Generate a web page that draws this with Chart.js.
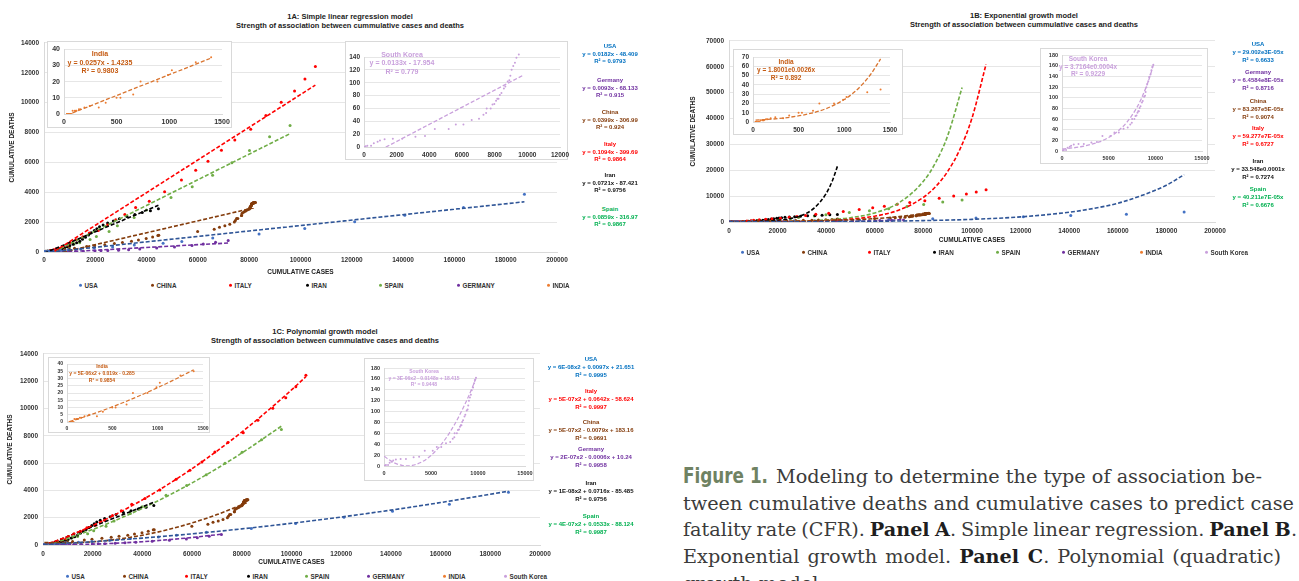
<!DOCTYPE html>
<html>
<head>
<meta charset="utf-8">
<script src="https://cdn.jsdelivr.net/npm/chart.js@4.4.1/dist/chart.umd.min.js"></script>
<style>
  body { margin: 0; width: 1299px; height: 581px; overflow: hidden; background: #fff; position: relative;
         font-family: "Liberation Sans", Arial, sans-serif; }
  .box { position: absolute; background: #fff; border: 1px solid #d9d9d9; box-sizing: border-box; }
  .t { position: absolute; white-space: nowrap; font-weight: bold; transform: translate(-50%, -50%); line-height: 1; }
  .lg { position: absolute; white-space: nowrap; font-weight: bold; font-size: 6.3px; color: #333; transform: translateY(-50%); line-height: 1; }
  .lg i { display: inline-block; width: 3px; height: 3px; border-radius: 50%; margin-right: 3px; vertical-align: middle; position: relative; top: -1px; }
  .cap { position: absolute; white-space: nowrap; font-family: "DejaVu Serif", "Liberation Serif", serif; color: #3b3b3b; line-height: 26px; font-size: 20px; }
  .cap b { color: #1e1e1e; }
  .fig { position: absolute; white-space: nowrap; font-family: "Liberation Sans Narrow", "DejaVu Sans Condensed", "Roboto Condensed", sans-serif;
         font-stretch: condensed; font-weight: bold; color: #6f8262; font-size: 22px; line-height: 26px; transform-origin: 0 50%; }
</style>
</head>
<body>
<script>
// ---- data ----
const countries = ['USA', 'CHINA', 'ITALY', 'IRAN', 'SPAIN', 'GERMANY', 'INDIA', 'South Korea'];

const usaCases = [100, 217, 402, 647, 1301, 1697, 2247, 2943, 3680, 4663, 6411, 9415, 14250, 19624, 26747, 35206, 46442, 53740, 65778, 83836, 101657, 121117, 140640, 163539, 187302];
const usaDeaths = [6, 12, 19, 25, 38, 41, 49, 57, 68, 91, 117, 150, 205, 260, 340, 471, 590, 706, 942, 1209, 1581, 2026, 2467, 2978, 3873];

const chinaCases = [548, 643, 920, 1406, 2075, 2877, 5509, 6087, 8141, 9802, 11891, 16630, 19716, 23707, 27440, 30587, 34110, 36814, 39829, 42354,
  44386, 44759, 59895, 66358, 68413, 70513, 72434, 74211, 74619, 75077, 75550, 77001, 77022, 77241, 77754, 78166, 78600, 78928, 79356, 79932,
  80136, 80261, 80386, 80537, 80690, 80770, 80823, 80860, 80887, 80921, 80932, 80945, 80977, 81003, 81033, 81058, 81102, 81156, 81250, 81305,
  81435, 81498, 81591, 81661, 81782, 81897, 82034, 82160, 82280, 82443];
const chinaDeaths = [17, 18, 26, 42, 56, 82, 131, 133, 171, 213, 259, 361, 425, 490, 562, 632, 717, 804, 904, 1011,
  1111, 1116, 1368, 1520, 1662, 1765, 1863, 2002, 2114, 2236, 2236, 2441, 2443, 2592, 2663, 2715, 2744, 2788, 2835, 2870,
  2912, 2981, 3012, 3045, 3073, 3100, 3123, 3139, 3161, 3172, 3180, 3193, 3203, 3217, 3230, 3241, 3249, 3253, 3261, 3259,
  3274, 3274, 3281, 3285, 3291, 3296, 3301, 3306, 3309, 3316];

const italyCases = [155, 229, 322, 453, 655, 888, 1128, 1694, 2036, 2502, 3089, 3858, 4636, 5883, 7375, 9172, 10149, 12462, 15113, 17660,
  21157, 24747, 27980, 31506, 35713, 41035, 47021, 53578, 59138, 63927, 69176, 74386, 80589, 86498, 92472, 97689, 101739, 105792];
const italyDeaths = [3, 7, 10, 12, 17, 21, 29, 34, 52, 79, 107, 148, 197, 233, 366, 463, 631, 827, 1016, 1266,
  1441, 1809, 2158, 2503, 2978, 3405, 4032, 4825, 5476, 6077, 6820, 7503, 8215, 9134, 10023, 10779, 11591, 12428];

const iranCases = [139, 245, 388, 593, 978, 1501, 2336, 2922, 3513, 4747, 5823, 6566, 7161, 8042, 9000, 10075, 11364, 12729, 13938, 14991,
  16169, 17361, 18407, 19644, 20610, 21638, 23049, 24811, 27017, 29406, 32332, 35408, 38309, 41495, 44605];
const iranDeaths = [19, 26, 34, 43, 54, 66, 77, 92, 107, 124, 145, 194, 237, 291, 354, 429, 514, 611, 724, 853,
  988, 1135, 1284, 1433, 1556, 1685, 1812, 1934, 2077, 2234, 2378, 2517, 2640, 2757, 2898];

const spainCases = [13, 32, 45, 84, 120, 165, 222, 259, 400, 500, 673, 1073, 1695, 2277, 2950, 5232, 6391, 7798, 9942, 11748,
  13910, 17963, 20410, 25374, 28603, 35136, 39885, 49515, 57786, 65719, 73235, 80110, 87956, 95923];
const spainDeaths = [0, 0, 0, 0, 0, 1, 2, 3, 5, 10, 17, 28, 35, 54, 84, 133, 195, 289, 342, 533,
  623, 830, 1043, 1375, 1756, 2311, 2808, 3647, 4365, 5138, 5982, 6803, 7716, 8464];

const germanyCases = [130, 159, 196, 262, 482, 670, 799, 1040, 1176, 1457, 1908, 2078, 3675, 4585, 5795, 7272, 9257, 12327, 15320, 19848,
  22213, 24873, 29056, 32986, 37323, 43938, 50871, 57695, 62095, 66885, 71808];
const germanyDeaths = [0, 0, 0, 0, 0, 0, 0, 0, 2, 2, 3, 3, 7, 9, 11, 17, 24, 28, 44, 67,
  84, 94, 123, 157, 206, 267, 342, 433, 533, 645, 775];

const indiaCases = [28, 30, 31, 34, 39, 43, 56, 62, 73, 82, 102, 113, 119, 142, 156, 194, 244, 330, 396, 499, 536, 657, 727, 887, 987, 1024, 1251, 1397];
const indiaDeaths = [0, 0, 0, 0, 0, 0, 0, 0, 0, 2, 2, 2, 2, 3, 3, 4, 5, 4, 7, 10, 10, 12, 20, 20, 24, 27, 32, 35];

const skCases = [31, 51, 104, 204, 433, 602, 833, 977, 1261, 1766, 2337, 3150, 3736, 4335, 5186, 5621, 6088, 6593, 7041, 7314,
  7478, 7513, 7755, 7869, 7979, 8086, 8162, 8236, 8320, 8413, 8565, 8652, 8799, 8897, 8961, 9037, 9137, 9241, 9332, 9478,
  9583, 9661, 9786];
const skDeaths = [0, 0, 1, 2, 2, 6, 8, 10, 12, 13, 13, 16, 17, 28, 28, 35, 35, 42, 44, 50,
  53, 60, 60, 66, 67, 72, 75, 75, 81, 84, 91, 94, 102, 104, 111, 120, 126, 131, 139, 144,
  152, 158, 162];

// trend lines, 1A linear (end points)
const usaLinX = [100, 187302], usaLinY = [-46.6, 3360.5];
const chinaLinX = [548, 82443], chinaLinY = [-285.1, 2982.5];
const italyLinX = [155, 105792], italyLinY = [-382.7, 11174];
const iranLinX = [139, 44605], iranLinY = [-77.4, 3128.6];
const spainLinX = [13, 95923], spainLinY = [-315.9, 7922.8];
const germanyLinX = [130, 71808], germanyLinY = [-66.9, 599.7];
const indiaLinX = [28, 1397], indiaLinY = [-0.7, 34.5];
const skLinX = [31, 9786], skLinY = [-17.5, 112.2];

// 1B exponential curves (sampled)
const usaExpX = [100, 20000, 40000, 60000, 80000, 100000, 120000, 140000, 150000, 160000, 170000, 180000, 187302];
const usaExpY = [40, 77, 147, 281, 538, 1031, 1976, 3785, 5240, 7240, 10300, 14200, 18300];
const chinaExpX = [548, 10000, 20000, 30000, 40000, 50000, 60000, 70000, 76000, 82443];
const chinaExpY = [85, 131, 208, 330, 523, 828, 1310, 2074, 2735, 3680];
const italyExpX = [155, 10000, 20000, 30000, 40000, 50000, 60000, 70000, 80000, 85000, 90000, 95000, 100000, 105792];
const italyExpY = [30, 62, 127, 260, 535, 1098, 2256, 4633, 9520, 13640, 19560, 28030, 40180, 61000];
const iranExpX = [139, 10000, 20000, 25000, 30000, 35000, 40000, 42500, 44605];
const iranExpY = [34, 143, 608, 1254, 2587, 5340, 11020, 15840, 21500];
const spainExpX = [13, 10000, 20000, 30000, 40000, 50000, 60000, 70000, 80000, 85000, 90000, 95923];
const spainExpY = [39, 83, 175, 370, 785, 1661, 3515, 7443, 15750, 22930, 33360, 52000];
const germanyExpX = [130, 20000, 30000, 40000, 50000, 60000, 66000, 71808];
const germanyExpY = [6.5, 26.2, 52.9, 106, 214, 431, 656, 985];
const indiaExpX = [28, 200, 400, 600, 800, 1000, 1100, 1200, 1300, 1397];
const indiaExpY = [1.94, 3.03, 5.09, 8.57, 14.4, 24.2, 31.4, 40.8, 52.9, 68];
const skExpX = [31, 2000, 4000, 5000, 6000, 7000, 8000, 8500, 9000, 9400, 9786];
const skExpY = [3.74, 8.0, 17.3, 25.5, 37.5, 55.2, 81.1, 98.4, 119.4, 139.3, 161.7];

// 1C polynomial curves (sampled)
const usaPolX = [100, 20000, 40000, 60000, 80000, 100000, 120000, 140000, 160000, 187302];
const usaPolY = [23, 240, 506, 820, 1182, 1592, 2050, 2556, 3110, 3944];
const chinaPolX = [548, 10000, 20000, 30000, 40000, 50000, 60000, 70000, 80000, 82443];
const chinaPolY = [179, 157, 237, 423, 715, 1113, 1617, 2227, 2943, 3134];
const italyPolX = [155, 10000, 20000, 30000, 40000, 50000, 60000, 70000, 80000, 90000, 100000, 105792];
const italyPolY = [-48.6, 633, 1425, 2317, 3309, 4401, 5593, 6885, 8277, 9769, 11361, 12329];
const iranPolX = [139, 10000, 20000, 30000, 40000, 44605];
const iranPolY = [-75.5, 632, 1351, 2072, 2795, 3129];
const spainPolX = [13, 5000, 10000, 20000, 30000, 40000, 50000, 60000, 70000, 80000, 95923];
const spainPolY = [-87.4, 188, 485, 1138, 1871, 2684, 3577, 4550, 5603, 6736, 8705];
const germanyPolX = [130, 10000, 20000, 30000, 40000, 50000, 60000, 71808];
const germanyPolY = [10.2, 20, 62, 136, 242, 380, 550, 792];
const indiaPolX = [28, 200, 400, 600, 800, 1000, 1200, 1397];
const indiaPolY = [0.25, 3.7, 8.1, 12.9, 18.1, 23.7, 29.7, 36.0];
const skPolX = [31, 500, 1000, 1500, 2000, 2500, 3000, 4000, 5000, 6000, 7000, 8000, 9000, 9786];
const skPolY = [17.96, 11.8, 6.6, 3.0, 0.8, 0.15, 1.0, 7.2, 19.4, 37.6, 61.8, 92, 128.2, 160.9];

// equation labels
const eqA = [['USA', 'y = 0.0182x - 48.409', 'R² = 0.9793'], ['Germany', 'y = 0.0093x - 68.133', 'R² = 0.915'],
  ['China', 'y = 0.0399x - 306.99', 'R² = 0.924'], ['Italy', 'y = 0.1094x - 399.69', 'R² = 0.9864'],
  ['Iran', 'y = 0.0721x - 87.421', 'R² = 0.9756'], ['Spain', 'y = 0.0859x - 316.97', 'R² = 0.9867']];
const eqB = [['USA', 'y = 29.002e3E-05x', 'R² = 0.6633'], ['Germany', 'y = 6.4584e8E-05x', 'R² = 0.8716'],
  ['China', 'y = 83.267e5E-05x', 'R² = 0.9074'], ['Italy', 'y = 59.277e7E-05x', 'R² = 0.6727'],
  ['Iran', 'y = 33.548e0.0001x', 'R² = 0.7274'], ['Spain', 'y = 40.211e7E-05x', 'R² = 0.6676']];
const eqC = [['USA', 'y = 6E-08x2 + 0.0097x + 21.651', 'R² = 0.9995'], ['Italy', 'y = 5E-07x2 + 0.0642x - 58.624', 'R² = 0.9997'],
  ['China', 'y = 5E-07x2 - 0.0079x + 183.16', 'R² = 0.9691'], ['Germany', 'y = 2E-07x2 - 0.0006x + 10.24', 'R² = 0.9958'],
  ['Iran', 'y = 1E-08x2 + 0.0716x - 85.485', 'R² = 0.9756'], ['Spain', 'y = 4E-07x2 + 0.0533x - 88.124', 'R² = 0.9987']];
const indiaEq = [['India', 'y = 0.0257x - 1.4235', 'R² = 0.9803'], ['India', 'y = 1.8001e0.0026x', 'R² = 0.892'], ['India', 'y = 5E-06x2 + 0.019x - 0.285', 'R² = 0.9854']];
const skEq = [['South Korea', 'y = 0.0133x - 17.954', 'R² = 0.779'], ['South Korea', 'y = 3.7164e0.0004x', 'R² = 0.9229'], ['South Korea', 'y = 3E-06x2 - 0.0148x + 18.415', 'R² = 0.9448']];

// ---- styling ----
const FONT = '"Liberation Sans", Arial, sans-serif';
const col = { usa: '#4472c4', usaL: '#2f5597', china: '#843c0c', italy: '#ff0000', iran: '#000000', spain: '#70ad47',
  germany: '#7030a0', india: '#ed7d31', indiaL: '#d9742f', sk: '#c9a0dc' };
const eqCol = { USA: '#0070c0', Germany: '#7030a0', China: '#843c0c', Italy: '#ff0000', Iran: '#111111', Spain: '#00b050' };
const legendCol = [col.usa, col.china, col.italy, col.iran, col.spain, col.germany, col.india, col.sk];

function pts(xs, ys) {
  return xs.map((x, i) => ({ x: x, y: ys[i] }));
}
function dots(xs, ys, color, r) {
  return { data: pts(xs, ys), showLine: false, pointRadius: r, pointBackgroundColor: color, pointBorderWidth: 0, borderColor: color };
}
function trend(xs, ys, color, w) {
  return { data: pts(xs, ys), showLine: true, pointRadius: 0, borderColor: color, borderWidth: w, borderDash: [4, 2],
    cubicInterpolationMode: 'monotone' };
}

function makeChart(rect, plot, cfg) {
  const cv = document.createElement('canvas');
  cv.width = rect.w;
  cv.height = rect.h;
  cv.style.cssText = 'position:absolute;left:' + rect.x + 'px;top:' + rect.y + 'px;width:' + rect.w + 'px;height:' + rect.h + 'px';
  document.body.appendChild(cv);
  const tickFont = { family: FONT, size: cfg.fs, weight: 'bold' };
  const titleFont = { family: FONT, size: 6.5, weight: 'bold' };
  return new Chart(cv, {
    type: 'scatter',
    data: { datasets: cfg.datasets },
    options: {
      responsive: false,
      animation: false,
      events: [],
      layout: { padding: { left: 0, bottom: 0, top: plot.t - rect.y, right: rect.x + rect.w - plot.r } },
      plugins: { legend: { display: false }, tooltip: { enabled: false } },
      scales: {
        x: {
          type: 'linear', min: 0, max: cfg.xMax,
          ticks: { stepSize: cfg.xStep, font: tickFont, color: '#333', padding: cfg.xPad, maxRotation: 0, autoSkip: false, callback: v => String(v) },
          grid: { display: false, drawTicks: false },
          border: { display: true, color: '#d9d9d9' },
          title: { display: !!cfg.xTitle, text: cfg.xTitle || '', font: titleFont, color: '#222', padding: { top: 0, bottom: 2 } },
          afterFit: s => { s.height = rect.y + rect.h - plot.b; }
        },
        y: {
          type: 'linear', min: 0, max: cfg.yMax,
          ticks: { stepSize: cfg.yStep, font: tickFont, color: '#333', padding: cfg.yPad, autoSkip: false, callback: v => String(v) },
          grid: { color: '#e0e0e0', lineWidth: 0.8, drawTicks: false },
          border: { display: true, color: '#d9d9d9' },
          title: { display: !!cfg.yTitle, text: cfg.yTitle || '', font: titleFont, color: '#222', padding: { top: cfg.titlePad || 4, bottom: 0 } },
          afterFit: s => { s.width = plot.l - rect.x; }
        }
      }
    }
  });
}

function text(x, y, s, size, color) {
  const d = document.createElement('div');
  d.className = 't';
  d.style.cssText = 'left:' + x + 'px;top:' + y + 'px;font-size:' + size + 'px;color:' + color;
  d.textContent = s;
  document.body.appendChild(d);
}
function block(cx, y0, step, lines, size, color) {
  lines.forEach((s, i) => text(cx, y0 + i * step, s, size, color));
}
function legend(xs, y, n) {
  for (let i = 0; i < n; i++) {
    const d = document.createElement('div');
    d.className = 'lg';
    d.style.left = (xs[i] - 1.5) + 'px';
    d.style.top = y + 'px';
    d.innerHTML = '<i style="background:' + legendCol[i] + '"></i>' + countries[i];
    document.body.appendChild(d);
  }
}
function inset(box, plot, cfg) {
  const b = document.createElement('div');
  b.className = 'box';
  b.style.cssText = 'left:' + box.x + 'px;top:' + box.y + 'px;width:' + box.w + 'px;height:' + box.h + 'px';
  document.body.appendChild(b);
  cfg.xPad = 4; cfg.yPad = 4;
  makeChart({ x: box.x, y: box.y, w: box.w + 20, h: box.h }, plot, cfg);
}
function panelTitle(cx, y, name) {
  text(cx, y, name, 7.5, '#222');
  text(cx, y + 9, 'Strength of association between cummulative cases and deaths', 7.5, '#222');
}

// ---- panel 1A : linear ----
panelTitle(350, 17, '1A: Simple linear regression model');
makeChart({ x: 0, y: 34, w: 600, h: 244 }, { l: 44, t: 42, r: 557, b: 252 }, {
  xMax: 200000, xStep: 20000, yMax: 14000, yStep: 2000, fs: 6.5, xPad: 4, yPad: 5, titlePad: 8,
  xTitle: 'CUMULATIVE CASES', yTitle: 'CUMULATIVE DEATHS',
  datasets: [
    trend(usaLinX, usaLinY, col.usaL, 1.6), trend(chinaLinX, chinaLinY, col.china, 1.6), trend(italyLinX, italyLinY, col.italy, 1.6),
    trend(iranLinX, iranLinY, col.iran, 1.6), trend(spainLinX, spainLinY, col.spain, 1.6), trend(germanyLinX, germanyLinY, col.germany, 1.6),
    dots(usaCases, usaDeaths, col.usa, 1.5), dots(chinaCases, chinaDeaths, col.china, 1.5), dots(italyCases, italyDeaths, col.italy, 1.5),
    dots(iranCases, iranDeaths, col.iran, 1.5), dots(spainCases, spainDeaths, col.spain, 1.5), dots(germanyCases, germanyDeaths, col.germany, 1.5)
  ]
});
inset({ x: 47, y: 41, w: 185, h: 87 }, { l: 64, t: 48, r: 222, b: 114 }, {
  xMax: 1500, xStep: 500, yMax: 40, yStep: 10, fs: 7,
  datasets: [trend(indiaLinX, indiaLinY, col.indiaL, 1.3), dots(indiaCases, indiaDeaths, col.india, 1)]
});
const skDotsA = dots(skCases, skDeaths, col.sk, 1);
skDotsA.clip = { left: 0, top: 6, right: 0, bottom: 0 };
inset({ x: 345, y: 41, w: 223, h: 119 }, { l: 364, t: 57, r: 560, b: 147 }, {
  xMax: 12000, xStep: 2000, yMax: 140, yStep: 20, fs: 6.5,
  datasets: [trend(skLinX, skLinY, col.sk, 1.3), skDotsA]
});
block(100, 53, 8.5, indiaEq[0], 7, '#c55a11');
block(402, 54, 8.3, skEq[0], 7, '#c9a0dc');
[46, 80, 112, 144, 175, 209].forEach((y, i) => block(610, y, 7.5, eqA[i], 6, eqCol[eqA[i][0]]));
legend([80, 152, 230, 307, 380, 458, 548], 286, 7);

// ---- panel 1B : exponential ----
panelTitle(1024, 16, '1B: Exponential growth model');
makeChart({ x: 681, y: 32, w: 580, h: 214 }, { l: 729, t: 40, r: 1215, b: 222 }, {
  xMax: 200000, xStep: 20000, yMax: 70000, yStep: 10000, fs: 6.5, xPad: 5, yPad: 5, titlePad: 8,
  xTitle: 'CUMULATIVE CASES', yTitle: 'CUMULATIVE DEATHS',
  datasets: [
    trend(usaExpX, usaExpY, col.usaL, 1.6), trend(chinaExpX, chinaExpY, col.china, 1.6), trend(italyExpX, italyExpY, col.italy, 1.6),
    trend(iranExpX, iranExpY, col.iran, 1.6), trend(spainExpX, spainExpY, col.spain, 1.6), trend(germanyExpX, germanyExpY, col.germany, 1.6),
    dots(usaCases, usaDeaths, col.usa, 1.5), dots(chinaCases, chinaDeaths, col.china, 1.5), dots(italyCases, italyDeaths, col.italy, 1.5),
    dots(iranCases, iranDeaths, col.iran, 1.5), dots(spainCases, spainDeaths, col.spain, 1.5), dots(germanyCases, germanyDeaths, col.germany, 1.5)
  ]
});
inset({ x: 733, y: 49, w: 170, h: 86 }, { l: 753, t: 57, r: 890, b: 122 }, {
  xMax: 1500, xStep: 500, yMax: 70, yStep: 10, fs: 6.5,
  datasets: [trend(indiaExpX, indiaExpY, col.indiaL, 1.3), dots(indiaCases, indiaDeaths, col.india, 1)]
});
inset({ x: 1040, y: 48, w: 168, h: 116 }, { l: 1062, t: 53, r: 1202, b: 151 }, {
  xMax: 15000, xStep: 5000, yMax: 180, yStep: 20, fs: 5.5,
  datasets: [trend(skExpX, skExpY, col.sk, 1.3), dots(skCases, skDeaths, col.sk, 1)]
});
block(786, 62, 8, indiaEq[1], 6.5, '#c55a11');
block(1088, 59, 7.5, skEq[1], 6.5, '#c9a0dc');
[44, 72, 101, 128, 161, 189].forEach((y, i) => block(1258, y, 7.8, eqB[i], 6, eqCol[eqB[i][0]]));
legend([742, 803, 869, 934, 997, 1063, 1141, 1206], 253, 8);

// ---- panel 1C : polynomial ----
panelTitle(325, 332, '1C: Polynomial growth model');
makeChart({ x: 0, y: 345, w: 580, h: 223 }, { l: 43, t: 353, r: 540, b: 545 }, {
  xMax: 200000, xStep: 20000, yMax: 14000, yStep: 2000, fs: 6.5, xPad: 5, yPad: 5, titlePad: 6,
  xTitle: 'CUMULATIVE CASES', yTitle: 'CUMULATIVE DEATHS',
  datasets: [
    trend(usaPolX, usaPolY, col.usaL, 1.6), trend(chinaPolX, chinaPolY, col.china, 1.6), trend(italyPolX, italyPolY, col.italy, 1.6),
    trend(iranPolX, iranPolY, col.iran, 1.6), trend(spainPolX, spainPolY, col.spain, 1.6), trend(germanyPolX, germanyPolY, col.germany, 1.6),
    dots(usaCases, usaDeaths, col.usa, 1.5), dots(chinaCases, chinaDeaths, col.china, 1.5), dots(italyCases, italyDeaths, col.italy, 1.5),
    dots(iranCases, iranDeaths, col.iran, 1.5), dots(spainCases, spainDeaths, col.spain, 1.5), dots(germanyCases, germanyDeaths, col.germany, 1.5)
  ]
});
inset({ x: 48, y: 357, w: 162, h: 76 }, { l: 67, t: 363, r: 203, b: 422 }, {
  xMax: 1500, xStep: 500, yMax: 40, yStep: 5, fs: 5,
  datasets: [trend(indiaPolX, indiaPolY, col.indiaL, 1.2), dots(indiaCases, indiaDeaths, col.india, 1)]
});
inset({ x: 364, y: 358, w: 170, h: 123 }, { l: 384, t: 368, r: 525, b: 466 }, {
  xMax: 15000, xStep: 5000, yMax: 180, yStep: 20, fs: 5.5,
  datasets: [trend(skPolX, skPolY, col.sk, 1.2), dots(skCases, skDeaths, col.sk, 1)]
});
block(102, 366, 7, indiaEq[2], 5, '#c55a11');
block(424, 371, 6.5, skEq[2], 5, '#c9a0dc');
[359, 391, 422, 449, 483, 516].forEach((y, i) => block(591, y, 7.8, eqC[i], 6, eqCol[eqC[i][0]]));
legend([67, 124, 186, 248, 306, 368, 444, 505], 577, 8);

// ---- caption ----
const capLines = [
  'Modeling to determine the type of association be-',
  'tween cumulative deaths and cumulative cases to predict case',
  'fatality rate (CFR). <b>Panel A</b>. Simple linear regression. <b>Panel B</b>.',
  'Exponential growth model. <b>Panel C</b>. Polynomial (quadratic)',
  'growth model.'
];
const capRight = [1262, 1294, 1297, 1281, 0];   // right edge of each line (0 = leave as is)
const fig = document.createElement('div');
fig.className = 'fig';
fig.textContent = 'Figure 1.';
fig.style.left = '683px';
fig.style.top = (476 - 13) + 'px';
document.body.appendChild(fig);
fig.style.transform = 'scaleX(' + (85 / fig.getBoundingClientRect().width) + ')';

const capEls = capLines.map((s, i) => {
  const d = document.createElement('div');
  d.className = 'cap';
  d.innerHTML = s;
  d.style.left = (i === 0 ? 776 : 683) + 'px';
  d.style.top = (476 + i * 26.7 - 12) + 'px';
  document.body.appendChild(d);
  return d;
});
// size the serif text from the second line, then spread the words so each line ends where it does in the print
const fitSize = 20 * 611 / capEls[1].getBoundingClientRect().width;
capEls.forEach((d, i) => {
  d.style.fontSize = fitSize + 'px';
  if (!capRight[i]) return;
  const r = d.getBoundingClientRect();
  const gaps = (d.textContent.match(/ /g) || []).length;
  d.style.wordSpacing = ((capRight[i] - r.right) / gaps) + 'px';
});
</script>
</body>
</html>
